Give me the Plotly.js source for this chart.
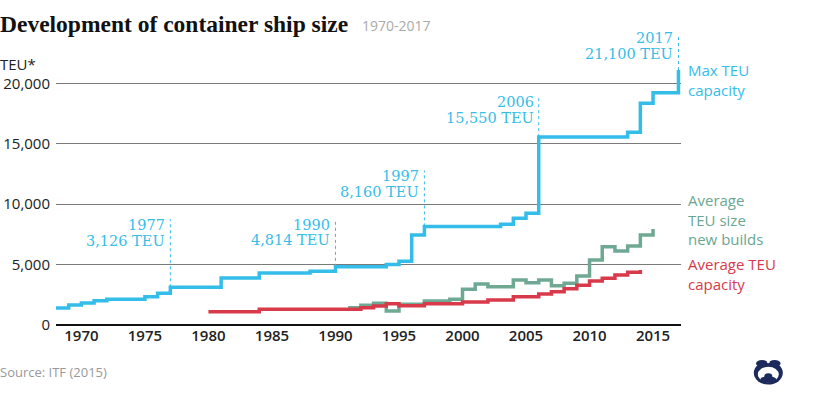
<!DOCTYPE html>
<html>
<head>
<meta charset="utf-8">
<script src="https://cdn.plot.ly/plotly-3.0.1.min.js"></script>
<style>html,body{margin:0;padding:0;background:#fff;}#chart{width:820px;height:396px;}</style>
</head>
<body>
<div id="chart"></div>
<script>
// ---- data ----
const blueYears = [1968,1969,1970,1971,1972,1975,1976,1977,1981,1984,1988,1990,1994,1995,1996,1997,2003,2004,2005,2006,2013,2014,2015,2017];
const blueTEU   = [1400,1650,1830,2010,2140,2340,2620,3126,3900,4300,4450,4814,5000,5270,7450,8160,8330,8830,9250,15550,15950,18350,19230,21100];
const greenYears = [1991,1992,1993,1994,1995,1997,1999,2000,2001,2002,2004,2005,2006,2007,2008,2009,2010,2011,2012,2013,2014,2015];
const greenTEU   = [1430,1630,1800,1160,1710,1990,2130,2950,3390,3170,3720,3500,3720,3250,3450,4050,5380,6480,6130,6540,7450,7950];
const redYears = [1980,1984,1992,1993,1994,1995,1997,2000,2002,2004,2006,2007,2008,2009,2010,2011,2012,2013,2014];
const redTEU   = [1100,1300,1430,1570,1750,1600,1750,1900,2070,2340,2570,2760,3000,3300,3640,3860,4140,4360,4550];
const markYears  = [1977, 1990, 1997, 2006, 2017];
const markTEU    = [3126, 4814, 8160, 15550, 21100];
const markLabels = ['3,126 TEU', '4,814 TEU', '8,160 TEU', '15,550 TEU', '21,100 TEU'];
const seriesLabels = ['Max TEU<br>capacity', 'Average<br>TEU size<br>new builds', 'Average TEU<br>capacity'];
const xTicks = [1970,1975,1980,1985,1990,1995,2000,2005,2010,2015];
const yTicks = [0,5000,10000,15000,20000];
const yTickText = ['0','5,000','10,000','15,000','20,000'];

// ---- styling / layout ----
const BLUE = '#33bde8', GREEN = '#6fa994', RED = '#d83a4a';
const BLUE_T = '#35bde8', GREEN_T = '#6aa792', RED_T = '#d6394a';
const L = 56, T = 35, W = 625, H = 290;
const px = X => (X - L) / W;
const py = Y => (T + H - Y) / H;
const dotH = [68, 48, 56, 41, 38];

const traces = [
  {x: greenYears, y: greenTEU, type: 'scatter', mode: 'lines', line: {shape: 'hv', color: GREEN, width: 3.5}, hoverinfo: 'skip'},
  {x: redYears, y: redTEU, type: 'scatter', mode: 'lines', line: {shape: 'hv', color: RED, width: 3.5}, hoverinfo: 'skip'},
  {x: blueYears, y: blueTEU, type: 'scatter', mode: 'lines', line: {shape: 'hv', color: BLUE, width: 3.5}, hoverinfo: 'skip'}
];

const shapes = [];
const annotations = [];
const serif = {family: 'DejaVu Serif', size: 14.5, color: BLUE_T};
markYears.forEach((yr, i) => {
  shapes.push({type: 'line', xref: 'x', yref: 'y', x0: yr, x1: yr, ysizemode: 'pixel', yanchor: markTEU[i],
    y0: 0, y1: dotH[i], line: {color: BLUE, width: 1, dash: 'dot'}});
  annotations.push({x: yr, y: markTEU[i], xref: 'x', yref: 'y', text: String(yr), showarrow: false,
    xanchor: 'right', yanchor: 'top', xshift: -3, yshift: dotH[i] + 4, font: serif});
  annotations.push({x: yr, y: markTEU[i], xref: 'x', yref: 'y', text: markLabels[i], showarrow: false,
    xanchor: 'right', yanchor: 'top', xshift: -3, yshift: dotH[i] + 4 - 15.5, font: serif});
});

const sideCapTop = [65.2, 195.3, 259.4];
const sideColors = [BLUE_T, GREEN_T, RED_T];
seriesLabels.forEach((txt, i) => {
  annotations.push({xref: 'paper', yref: 'paper', x: px(686.3), y: py(sideCapTop[i] - 7.3), text: txt, showarrow: false,
    xanchor: 'left', yanchor: 'top', align: 'left', font: {family: 'Open Sans', size: 15, color: sideColors[i]}});
});

annotations.push({xref: 'paper', yref: 'paper', x: px(-2), y: py(59 - 7.4), text: 'TEU*', showarrow: false,
  xanchor: 'left', yanchor: 'top', font: {family: 'Open Sans', size: 15, color: '#222'}});
annotations.push({xref: 'paper', yref: 'paper', x: px(359.7), y: py(21 - 7), text: '1970-2017', showarrow: false,
  xanchor: 'left', yanchor: 'top', font: {family: 'Open Sans', size: 14, color: '#aaaaaa'}});
annotations.push({xref: 'paper', yref: 'paper', x: px(-2), y: py(367.3 - 6.7), text: 'Source: ITF (2015)', showarrow: false,
  xanchor: 'left', yanchor: 'top', font: {family: 'Open Sans', size: 13, color: '#999999'}});

// logo
const NAVY = '#1d2b5c';
function ell(cx, cy, rx, ry, color) {
  shapes.push({type: 'circle', xref: 'paper', yref: 'paper', x0: px(cx - rx), x1: px(cx + rx), y0: py(cy + ry), y1: py(cy - ry),
    fillcolor: color, line: {width: 0}, layer: 'above'});
}
ell(768.3, 373, 14.5, 11.5, NAVY);
ell(768.3, 374.5, 10.5, 7.8, '#ffffff');
ell(762, 363.5, 6, 3.5, NAVY);
ell(774.6, 363.5, 6, 3.5, NAVY);
ell(768.3, 379.5, 8, 3.2, NAVY);
ell(768.3, 376.5, 4, 3.2, NAVY);
ell(768.3, 361, 1.6, 2.2, '#ffffff');

const layout = {
  width: 820, height: 396,
  margin: {l: L, r: 820 - L - W, t: T, b: 396 - T - H, pad: 0},
  paper_bgcolor: '#ffffff', plot_bgcolor: '#ffffff',
  showlegend: false,
  title: {text: 'Development of container ship size', x: 0, xref: 'container', xanchor: 'left',
    y: 1 - 24.1 / 396, yref: 'container', yanchor: 'middle',
    font: {family: 'Liberation Serif', size: 23.5, color: '#111', weight: 'bold'}},
  xaxis: {range: [1968, 2017.2], tickvals: xTicks, showgrid: false, zeroline: false, showline: false,
    ticks: '', tickfont: {family: 'Open Sans', size: 15, color: '#222', weight: 600}, fixedrange: true},
  yaxis: {range: [0, 24000], tickvals: yTicks, ticktext: yTickText, showgrid: true, gridcolor: '#7a7a7a', gridwidth: 1,
    zeroline: true, zerolinecolor: '#111', zerolinewidth: 2.5, showline: false, ticks: '', ticklabelstandoff: 5,
    tickfont: {family: 'Open Sans', size: 15, color: '#222'}, fixedrange: true},
  shapes: shapes,
  annotations: annotations
};

Plotly.newPlot('chart', traces, layout, {displayModeBar: false, staticPlot: true});
</script>
</body>
</html>
